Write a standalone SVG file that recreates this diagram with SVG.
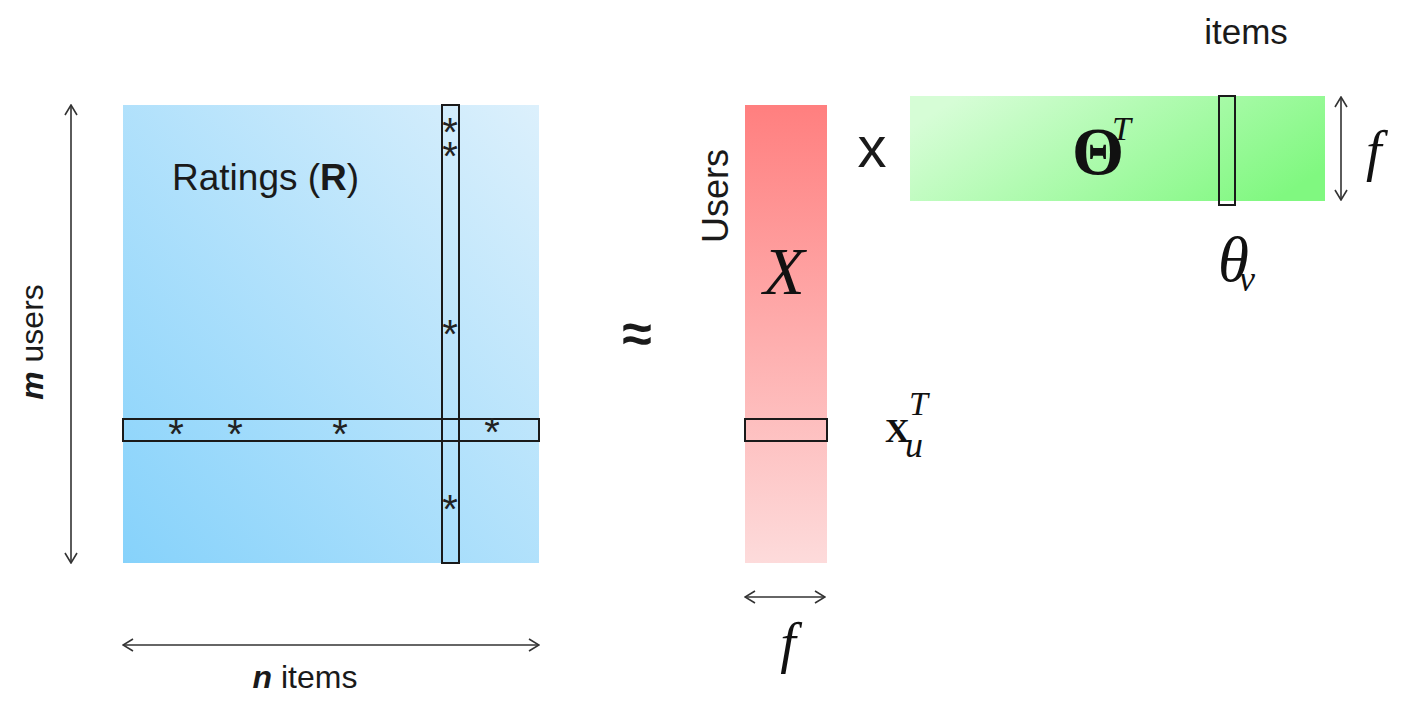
<svg xmlns="http://www.w3.org/2000/svg" width="1406" height="706" viewBox="0 0 1406 706">
<defs>
<linearGradient id="gBlue" x1="0" y1="1" x2="1" y2="0">
<stop offset="0" stop-color="#86d2fb"/>
<stop offset="1" stop-color="#dcf0fc"/>
</linearGradient>
<linearGradient id="gRed" x1="0" y1="0" x2="0" y2="1">
<stop offset="0" stop-color="#ff7f7f"/>
<stop offset="1" stop-color="#fddbdb"/>
</linearGradient>
<linearGradient id="gGreen" x1="0" y1="0.3" x2="1" y2="0.7">
<stop offset="0" stop-color="#d6fdd6"/>
<stop offset="1" stop-color="#80f880"/>
</linearGradient>
<marker id="arr" viewBox="0 0 12 14" refX="11" refY="7" markerWidth="12" markerHeight="14" markerUnits="userSpaceOnUse" orient="auto-start-reverse">
<path d="M1,1 L11,7 L1,13" fill="none" stroke="#333" stroke-width="1.6"/>
</marker>
</defs>
<style>
.sans{font-family:"Liberation Sans",Arial,sans-serif;fill:#1a1a1a}
.serif{font-family:"Liberation Serif","Times New Roman",serif;fill:#111}
.box{fill:none;stroke:#1a1a1a;stroke-width:2}
.dim{stroke:#333;stroke-width:1.6;fill:none}
.ast{font-family:"Liberation Sans",Arial,sans-serif;font-size:40px;fill:#222;text-anchor:middle}
</style>
<rect width="1406" height="706" fill="#fff"/>

<g id="ratings">
<rect x="123" y="105" width="416" height="458" fill="url(#gBlue)"/>
<text class="sans" x="172" y="190" font-size="37">Ratings (<tspan font-weight="bold">R</tspan>)</text>
<rect class="box" x="442" y="105" width="17" height="458"/>
<rect class="box" x="123" y="419" width="416" height="22"/>
<text class="ast"><tspan x="450" y="146">*</tspan><tspan x="450" y="170">*</tspan></text>
<text class="ast" x="450" y="348">*</text>
<text class="ast" x="450" y="523">*</text>
<text class="ast" x="176" y="448">*</text>
<text class="ast" x="235" y="448">*</text>
<text class="ast" x="340" y="448">*</text>
<text class="ast" x="492" y="446">*</text>
</g>

<g id="users-matrix">
<rect x="745" y="105" width="82" height="458" fill="url(#gRed)"/>
<rect class="box" x="745" y="419" width="82" height="22"/>
<text class="serif" x="784" y="294" font-size="68" font-style="italic" text-anchor="middle">X</text>
<text class="sans" transform="translate(728,196) rotate(-90)" font-size="36" text-anchor="middle">Users</text>
</g>

<g id="xu-label">
<text class="serif" x="885" y="442" font-size="34" font-weight="bold">X</text>
<text class="serif" x="909" y="415" font-size="34" font-style="italic">T</text>
<text class="serif" x="905" y="457" font-size="36" font-style="italic">u</text>
</g>

<g id="items-matrix">
<rect x="910" y="96" width="415" height="105" fill="url(#gGreen)"/>
<rect class="box" x="1219" y="96" width="16" height="109"/>
<text class="serif" x="1072" y="174" font-size="67" font-weight="bold">Θ</text>
<text class="serif" x="1112" y="140" font-size="34" font-style="italic">T</text>
<text class="sans" x="1246" y="44" font-size="35" text-anchor="middle">items</text>
</g>

<g id="theta-label">
<text class="serif" x="1218" y="281" font-size="63" font-style="italic">θ</text>
<text class="serif" x="1239" y="291" font-size="36" font-style="italic">v</text>
</g>

<g id="ops">
<text class="sans" x="637" y="352" font-size="54" font-weight="bold" text-anchor="middle">≈</text>
<text class="sans" x="872" y="167" font-size="58" text-anchor="middle">x</text>
</g>

<g id="connectors">
<line class="dim" x1="71" y1="105" x2="71" y2="563" marker-start="url(#arr)" marker-end="url(#arr)"/>
<line class="dim" x1="123" y1="645" x2="539" y2="645" marker-start="url(#arr)" marker-end="url(#arr)"/>
<line class="dim" x1="745" y1="597" x2="825" y2="597" marker-start="url(#arr)" marker-end="url(#arr)"/>
<line class="dim" x1="1341" y1="97" x2="1341" y2="200" marker-start="url(#arr)" marker-end="url(#arr)"/>
</g>

<g id="dim-labels">
<text class="sans" transform="translate(43,342) rotate(-90)" font-size="32" text-anchor="middle"><tspan font-weight="bold" font-style="italic">m</tspan> users</text>
<text class="sans" x="305" y="688" font-size="32" text-anchor="middle"><tspan font-weight="bold" font-style="italic">n</tspan> items</text>
<text class="serif" x="788" y="662" font-size="56" font-style="italic" text-anchor="middle">f</text>
<text class="serif" x="1366" y="170" font-size="56" font-style="italic">f</text>
</g>
</svg>
